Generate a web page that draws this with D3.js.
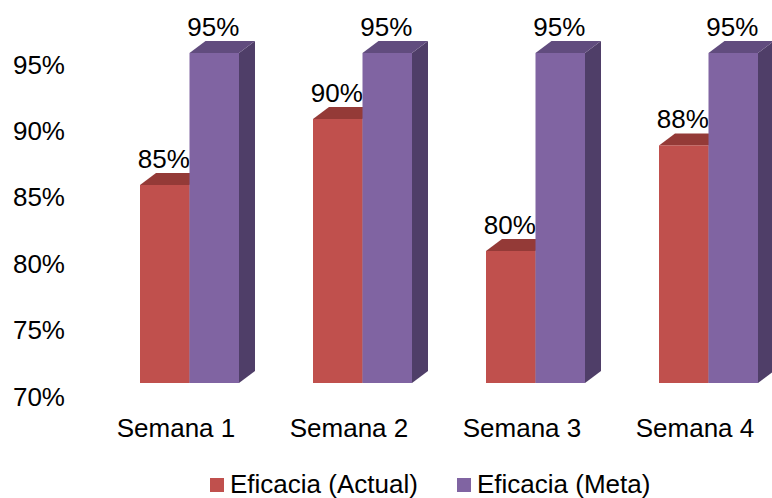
<!DOCTYPE html>
<html><head><meta charset="utf-8">
<script src="https://cdn.jsdelivr.net/npm/d3@7"></script>
<style>
html,body{margin:0;padding:0;background:#fff;}
svg text{font-family:Arial,"Liberation Sans",sans-serif;fill:#000;}
</style></head>
<body><svg id="c" width="772" height="498"></svg>
<script>
const categories = ["Semana 1","Semana 2","Semana 3","Semana 4"];
const seriesNames = ["Eficacia (Actual)","Eficacia (Meta)"];
const actualValues = [85, 90, 80, 88];
const metaValues = [95, 95, 95, 95];
const yTicks = [70, 75, 80, 85, 90, 95];

const colors = [
  {front:"#C0504D", top:"#943A37", side:"#7A2F2D"},
  {front:"#8064A2", top:"#614C7E", side:"#4F3E68"}
];
const seriesVals = [actualValues, metaValues];

const svg = d3.select("#c");
const fs = 26;
const dx = 16, dy = 12;

const x = d3.scaleBand().domain(categories).range([89.5, 781.5]).paddingInner(0).paddingOuter(0);
const xs = d3.scaleBand().domain(seriesNames).range([50.5, 149.5]).padding(0);
const yFront = d3.scaleLinear().domain([70, 95]).range([383, 53]);
const yAxisS = d3.scaleLinear().domain([70, 95]).range([396, 64]);

// Y axis labels
const ay = svg.append("g").attr("transform","translate(65,0)")
  .call(d3.axisLeft(yAxisS).tickValues(yTicks).tickSize(0).tickPadding(0).tickFormat(d => d + "%"));
ay.select(".domain").remove();
ay.selectAll("text").attr("font-size", fs).attr("font-family","Arial, 'Liberation Sans', sans-serif")
  .attr("fill","#000").attr("dy","0.35em");

// Bars (for each category, red then purple so purple covers red side)
categories.forEach((c, ci) => {
  seriesNames.forEach((s, si) => {
    const v = seriesVals[si][ci];
    const x0 = x(c) + xs(s);
    const w = xs.bandwidth();
    const yt = yFront(v), yb = yFront(70);
    const g = svg.append("g");
    g.append("path").attr("fill", colors[si].side)
      .attr("d", `M${x0+w},${yt} L${x0+w+dx},${yt-dy} L${x0+w+dx},${yb-dy} L${x0+w},${yb} Z`);
    g.append("path").attr("fill", colors[si].top)
      .attr("d", `M${x0},${yt} L${x0+dx},${yt-dy} L${x0+w+dx},${yt-dy} L${x0+w},${yt} Z`);
    g.append("rect").attr("x", x0).attr("y", yt).attr("width", w).attr("height", yb-yt)
      .attr("fill", colors[si].front);
  });
});

// Value labels
categories.forEach((c, ci) => {
  seriesNames.forEach((s, si) => {
    const v = seriesVals[si][ci];
    const x0 = x(c) + xs(s);
    svg.append("text").attr("x", x0 + xs.bandwidth()/2 - 1).attr("y", yFront(v) - dy - 5)
      .attr("text-anchor","middle").attr("font-size", fs).text(v + "%");
  });
});

// Category labels
svg.append("g").selectAll("text").data(categories).join("text")
  .attr("x", d => x(d) + x.bandwidth()/2).attr("y", 437)
  .attr("text-anchor","middle").attr("font-size", fs).text(d => d);

// Legend
const legX = [210, 457];
seriesNames.forEach((s, i) => {
  svg.append("rect").attr("x", legX[i]).attr("y", 478).attr("width", 14).attr("height", 14)
    .attr("fill", colors[i].front);
  svg.append("text").attr("x", legX[i] + 20).attr("y", 493).attr("font-size", fs).text(s);
});
</script></body></html>
